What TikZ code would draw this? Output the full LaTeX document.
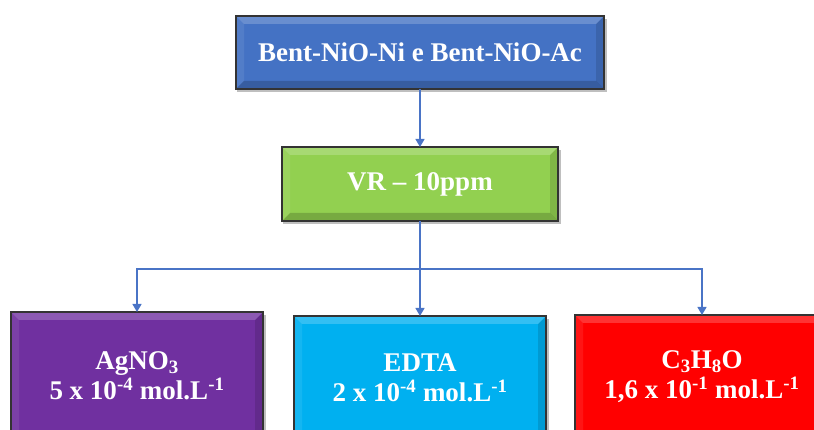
\documentclass[tikz,border=0pt]{standalone}
\usepackage{fontspec}
\setmainfont{Liberation Serif}
\usetikzlibrary{arrows.meta,backgrounds}
\definecolor{cblue}{HTML}{4472C4}
\definecolor{cgreen}{HTML}{92D050}
\definecolor{cpurple}{HTML}{7030A0}
\definecolor{ccyan}{HTML}{00B0F0}
\definecolor{cred}{HTML}{FF0000}
\definecolor{cline}{HTML}{4A74C6}
\begin{document}
\begin{tikzpicture}[x=1pt,y=-1pt,
  box/.style={draw=none, text=white, inner sep=0pt, outer sep=0pt, align=center,
    font=\bfseries\fontsize{27}{30}\selectfont},
  conn/.style={draw=cline, line width=1.3pt},
  arr/.style={conn, -{Triangle[length=8pt,width=9pt]}}
]
\useasboundingbox (0,0) rectangle (814,430);
\clip (0,0) rectangle (814,430);

\node[box, fill=cblue, minimum width=368pt, minimum height=73pt] (top) at (420,52.5) {Bent-NiO-Ni e Bent-NiO-Ac};
\node[box, fill=cgreen, minimum width=276pt, minimum height=74pt] (mid) at (420,184) {VR -- 10ppm};
\node[box, fill=cpurple, minimum width=252pt, minimum height=127pt] (ag) at (137,375.5) {AgNO\textsubscript{3}\\5 x 10\textsuperscript{-4} mol.L\textsuperscript{-1}};
\node[box, fill=ccyan, minimum width=252pt, minimum height=123pt] (ed) at (420,377.5) {EDTA\\2 x 10\textsuperscript{-4} mol.L\textsuperscript{-1}};
\node[box, fill=cred, minimum width=254pt, minimum height=124pt] (c3) at (702,377) {C\textsubscript{3}H\textsubscript{8}O\\1,6 x 10\textsuperscript{-1} mol.L\textsuperscript{-1}};

\begin{scope}[on background layer]
\foreach \n in {top,mid,ag,ed,c3}{
  \fill[black,opacity=0.25] ([xshift=1pt,yshift=-3pt]\n.north west) rectangle ([xshift=3pt,yshift=-3pt]\n.south east);
}
\end{scope}

\foreach \n in {top,mid,ag,ed,c3}{
  \fill[white,opacity=0.2] (\n.north west) -- (\n.north east) -- ([xshift=-8pt,yshift=-8pt]\n.north east) -- ([xshift=8pt,yshift=-8pt]\n.north west) -- cycle;
  \fill[white,opacity=0.08] (\n.north west) -- ([xshift=8pt,yshift=-8pt]\n.north west) -- ([xshift=8pt,yshift=8pt]\n.south west) -- (\n.south west) -- cycle;
  \fill[black,opacity=0.12] (\n.north east) -- ([xshift=-8pt,yshift=-8pt]\n.north east) -- ([xshift=-8pt,yshift=8pt]\n.south east) -- (\n.south east) -- cycle;
  \fill[black,opacity=0.18] (\n.south west) -- ([xshift=8pt,yshift=8pt]\n.south west) -- ([xshift=-8pt,yshift=8pt]\n.south east) -- (\n.south east) -- cycle;
  \draw[black!80, line width=1.1pt] (\n.north west) rectangle (\n.south east);
}

\coordinate (j) at (420,269);
\draw[arr] (top) -- (mid);
\draw[conn] (mid) -- (j);
\draw[arr] (j) -| (ag);
\draw[arr] (j) -| (ed);
\draw[arr] (j) -| (c3);
\end{tikzpicture}
\end{document}
